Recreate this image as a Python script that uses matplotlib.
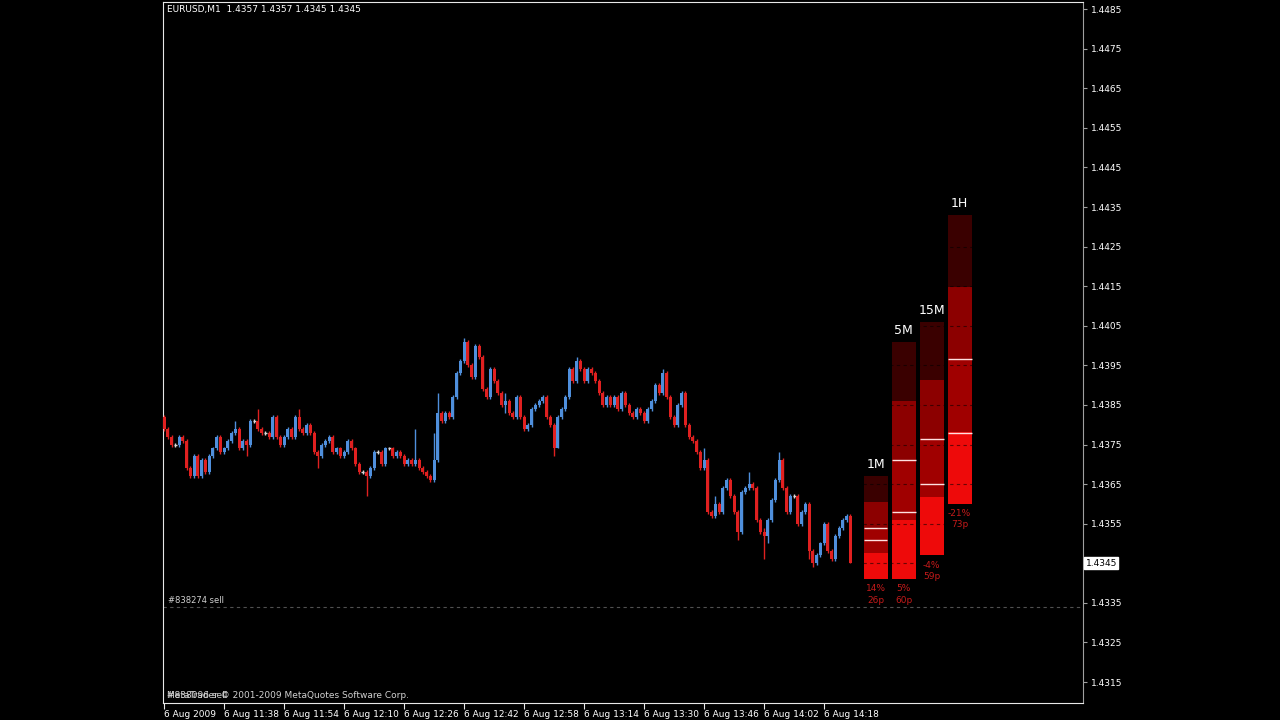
import matplotlib
matplotlib.use('Agg')
import matplotlib.pyplot as plt
import matplotlib.transforms as mtransforms
import numpy as np

# EURUSD M1 closes, 6 Aug 2009 from 11:22
closes = [
    1.4379, 1.4377, 1.4375, 1.4375, 1.4377, 1.4376, 1.4369, 1.4367, 1.4372, 1.4367,
    1.4371, 1.4368, 1.4372, 1.4374, 1.4377, 1.4373, 1.4374, 1.4376, 1.4378, 1.4379,
    1.4374, 1.4376, 1.4375, 1.4381, 1.4381, 1.4379, 1.4378, 1.4378, 1.4377, 1.4382,
    1.4377, 1.4375, 1.4377, 1.4379, 1.4377, 1.4382, 1.4379, 1.4378, 1.4380, 1.4378,
    1.4373, 1.4372, 1.4375, 1.4376, 1.4377, 1.4373, 1.4374, 1.4372, 1.4373, 1.4376,
    1.4374, 1.4370, 1.4368, 1.4368, 1.4367, 1.4369, 1.4373, 1.4373, 1.4370, 1.4374,
    1.4374, 1.4372, 1.4373, 1.4372, 1.4370, 1.4371, 1.4370, 1.4371, 1.4369, 1.4368,
    1.4367, 1.4366, 1.4371, 1.4383, 1.4381, 1.4383, 1.4382, 1.4387, 1.4393, 1.4396,
    1.4401, 1.4395, 1.4392, 1.4400, 1.4397, 1.4389, 1.4387, 1.4394, 1.4391, 1.4388,
    1.4385, 1.4386, 1.4383, 1.4382, 1.4387, 1.4382, 1.4379, 1.4380, 1.4384, 1.4385,
    1.4386, 1.4387, 1.4382, 1.4380, 1.4374, 1.4382, 1.4384, 1.4387, 1.4394, 1.4391,
    1.4396, 1.4394, 1.4391, 1.4394, 1.4393, 1.4391, 1.4388, 1.4385, 1.4387, 1.4385,
    1.4387, 1.4384, 1.4388, 1.4385, 1.4383, 1.4382, 1.4384, 1.4383, 1.4381, 1.4384,
    1.4386, 1.4390, 1.4388, 1.4393, 1.4387, 1.4382, 1.4380, 1.4385, 1.4388, 1.4380,
    1.4377, 1.4376, 1.4373, 1.4369, 1.4371, 1.4358, 1.4357, 1.4360, 1.4358, 1.4364,
    1.4366, 1.4362, 1.4358, 1.4353, 1.4363, 1.4364, 1.4365, 1.4364, 1.4356, 1.4353,
    1.4352, 1.4356, 1.4361, 1.4366, 1.4371, 1.4364, 1.4358, 1.4362, 1.4362, 1.4355,
    1.4358, 1.4360, 1.4348, 1.4345, 1.4347, 1.4350, 1.4355, 1.4348, 1.4346, 1.4352,
    1.4354, 1.4356, 1.4357, 1.4345,
]
first_open = 1.4382

# candles with visibly long shadows
spike_high = {19: 1.4381, 25: 1.4384, 36: 1.4384, 67: 1.4379, 72: 1.4378, 73: 1.4388,
              80: 1.4402, 91: 1.4388, 110: 1.4397, 133: 1.4394, 144: 1.4374,
              147: 1.4362, 156: 1.4368, 160: 1.4354, 164: 1.4373}
spike_low = {22: 1.4372, 41: 1.4369, 54: 1.4362, 91: 1.4383, 104: 1.4372, 105: 1.4374,
             153: 1.4351, 160: 1.4346, 161: 1.4350, 172: 1.4346, 173: 1.4344, 183: 1.4345}

time_labels = ['6 Aug 2009', '6 Aug 11:38', '6 Aug 11:54', '6 Aug 12:10', '6 Aug 12:26',
               '6 Aug 12:42', '6 Aug 12:58', '6 Aug 13:14', '6 Aug 13:30', '6 Aug 13:46',
               '6 Aug 14:02', '6 Aug 14:18']

# range indicator per timeframe
tf_names = ['1M', '5M', '15M', '1H']
tf_high = [1.4367, 1.4401, 1.4406, 1.4433]
tf_low = [1.4341, 1.4341, 1.4347, 1.4360]
tf_level = [1.4351, 1.4358, 1.4365, 1.4378]
tf_pct = [14, 5, -4, -21]

order_price = 1.4334
last_price = 1.4345
pip = 0.0001

BULL = '#4f8fdc'
BEAR = '#e02020'
DOJI = '#d8d8d8'

opens = [first_open] + closes[:-1]

fig = plt.figure(figsize=(12.8, 7.2), dpi=100, facecolor='black')
ax = fig.add_axes([163 / 1280, 17 / 720, 920 / 1280, 701 / 720])
ax.set_facecolor('black')
ax.set_xlim(-0.3, -0.3 + 920 / 3.75)
ax.set_ylim(1.43097, 1.44868)

for i, (o, c) in enumerate(zip(opens, closes)):
    hi = spike_high.get(i, max(o, c) + 0.5 * pip)
    lo = spike_low.get(i, min(o, c) - 0.5 * pip)
    if c > o:
        col = BULL
    elif c < o:
        col = BEAR
    else:
        col = DOJI
    ax.vlines(i, lo, hi, color=col, lw=1, zorder=3)
    if c != o:
        ax.bar(i, c - o, bottom=o, width=0.8, color=col, linewidth=0, zorder=3)
    else:
        ax.hlines(c, i - 0.4, i + 0.4, color=col, lw=1, zorder=3)

# timeframe range bars
seg_colors = ['#3a0000', '#8c0000', '#a00000', '#ee0a0a']
for k, name in enumerate(tf_names):
    pos = 189.7 + 7.47 * k
    w = 6.4
    h, l = tf_high[k], tf_low[k]
    q = (h - l) / 4
    for j in range(4):
        ax.bar(pos, q, bottom=h - (j + 1) * q, width=w, color=seg_colors[j],
               linewidth=0, zorder=2)
    ax.hlines([(h + l) / 2, tf_level[k]], pos - w / 2, pos + w / 2,
              color='#ffe0e0', lw=1, zorder=4)
    ax.text(pos, h + 1.2 * pip, name, color='white', fontsize=9,
            ha='center', va='bottom')
    pips = int(round((h - l) / pip))
    ax.text(pos, l - 1.3 * pip, '%d%%\n%dp' % (tf_pct[k], pips), color='#c41a1a',
            fontsize=6.5, ha='center', va='top', linespacing=1.35)

# dark dashed grid (only visible over the red bars)
yt = np.arange(1.4315, 1.44851, 0.001)
for lvl in yt:
    ax.axhline(lvl, color='black', lw=0.8, ls=(0, (3, 3)), alpha=0.55, zorder=2.5)

# order line
tr = mtransforms.blended_transform_factory(ax.transAxes, ax.transData)
ax.axhline(order_price, color='#505050', lw=0.8, ls=(0, (3, 3)), zorder=1)
ax.text(0.005, order_price + 0.5 * pip, '#838274 sell', color='#d0d0d0', fontsize=6,
        transform=tr, va='bottom')

ax.text(0.004, 0.996, 'EURUSD,M1  1.4357 1.4357 1.4345 1.4345', color='white',
        fontsize=6.5, transform=ax.transAxes, va='top')
# MT4 draws the order label on top of the copyright line
ax.text(0.004, 0.004, '#838096 sell', color='#d0d0d0', fontsize=6.5,
        transform=ax.transAxes, va='bottom')
ax.text(0.004, 0.004, 'MetaTrader \u00a9 2001-2009 MetaQuotes Software Corp.',
        color='#d0d0d0', fontsize=6.5, transform=ax.transAxes, va='bottom')

# axes frame and ticks
for side in ['left', 'top', 'bottom']:
    ax.spines[side].set_color('#e8e8e8')
ax.spines['right'].set_color('#a0a0a0')

ax.yaxis.tick_right()
ax.set_yticks(yt)
# the 1.4345 tick label is hidden under the current price box
ax.set_yticklabels(['' if abs(v - last_price) < 1e-6 else '%.4f' % v for v in yt])
ax.tick_params(axis='y', colors='#a0a0a0', labelcolor='white', length=3, labelsize=6.5, pad=3)

ax.set_xticks(np.arange(0, 16 * len(time_labels), 16))
ax.set_xticklabels(time_labels)
for lbl in ax.get_xticklabels():
    lbl.set_ha('left')
ax.tick_params(axis='x', colors='#e8e8e8', labelcolor='white', length=4, labelsize=6.5, pad=1)

ax.text(1.003, last_price, '1.4345', color='black', fontsize=6.5, transform=tr,
        va='center', ha='left',
        bbox=dict(facecolor='white', edgecolor='white', pad=1.0))

fig.savefig('out.png', dpi=100, facecolor='black')
